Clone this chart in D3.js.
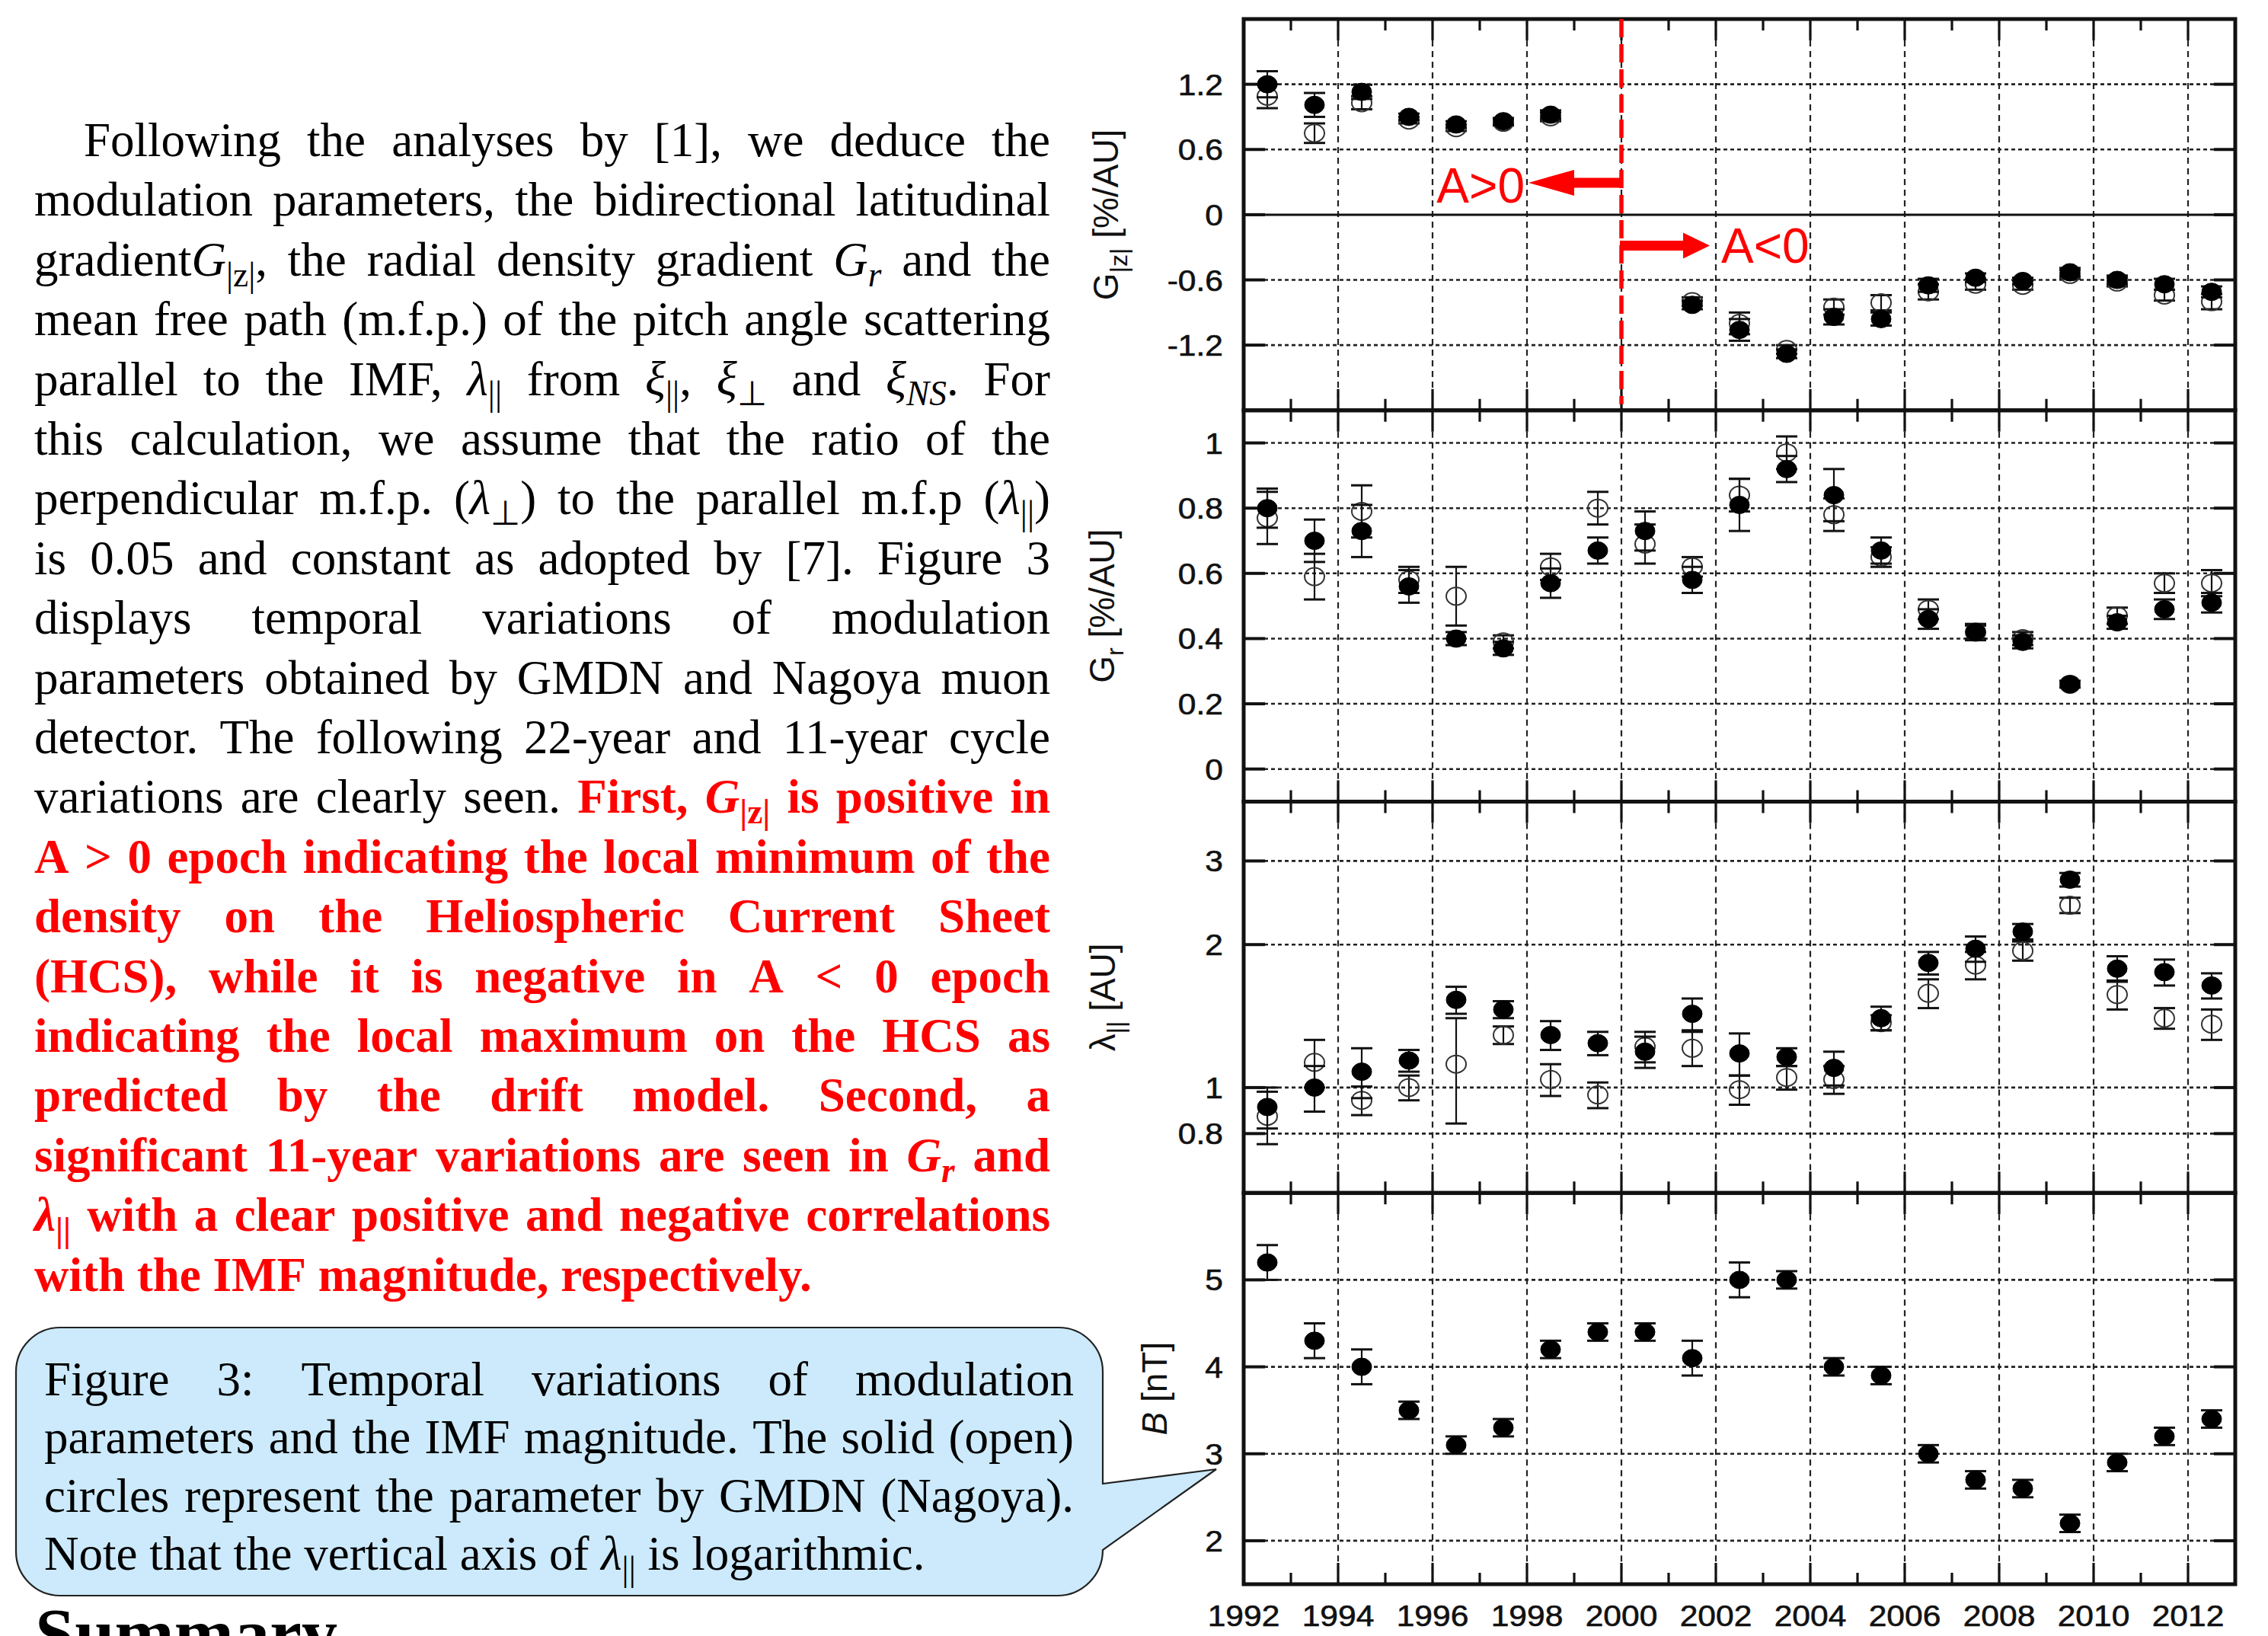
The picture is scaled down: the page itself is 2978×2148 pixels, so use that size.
<!DOCTYPE html>
<html><head><meta charset="utf-8">
<script src="https://cdn.jsdelivr.net/npm/d3@7"></script>
<style>html,body{margin:0;padding:0;background:#fff;} svg{display:block;}</style>
</head><body>
<svg id="fig" width="2978" height="2148"></svg>
<script>
// ---------------- DATA ----------------
const years = [1992,1993,1994,1995,1996,1997,1998,1999,2000,2001,2002,2003,2004,2005,2006,2007,2008,2009,2010,2011,2012];
const xTickLabels = ["1992","1994","1996","1998","2000","2002","2004","2006","2008","2010","2012"];

// G|z| [%/AU]  (solid = GMDN, open = Nagoya)
const gzSolid    = [1.20, 1.01, 1.13, 0.90, 0.83, 0.86, 0.92, null, null, -0.83, -1.06, -1.28, -0.94, -0.96, -0.65, -0.58, -0.61, -0.53, -0.60, -0.64, -0.71];
const gzSolidErr = [0.12, 0.11, 0.065,0.03, 0.03, 0.03, 0.04, null, null, 0.04,  0.10,  0.04,  0.07,  0.06,  0.06,  0.04,  0.03,  0.04,  0.04,  0.05,  0.05];
const gzOpen     = [1.09, 0.75, 1.03, 0.87, 0.80, 0.85, 0.90, null, null, -0.80, -1.00, -1.24, -0.85, -0.81, -0.71, -0.64, -0.65, -0.55, -0.62, -0.74, -0.80];
const gzOpenErr  = [0.11, 0.09, 0.06, 0.03, 0.03, 0.03, 0.04, null, null, 0.04,  0.10,  0.04,  0.07,  0.07,  0.07,  0.05,  0.04,  0.04,  0.04,  0.05,  0.07];
const gzTicks = [-1.2, -0.6, 0, 0.6, 1.2];

// Gr [%/AU]
const grSolid    = [0.80, 0.70, 0.73, 0.56, 0.40, 0.37, 0.57, 0.67, 0.73, 0.58, 0.81, 0.92, 0.84, 0.67, 0.46, 0.42, 0.39, 0.26, 0.45, 0.49, 0.51];
const grSolidErr = [0.06, 0.065,0.08, 0.05, 0.02, 0.02, 0.045,0.04, 0.06, 0.04, 0.08, 0.04, 0.08, 0.04, 0.03, 0.025,0.02, 0.01, 0.02, 0.03, 0.03];
const grOpen     = [0.77, 0.59, 0.79, 0.58, 0.53, 0.39, 0.62, 0.80, 0.69, 0.62, 0.84, 0.97, 0.78, 0.65, 0.49, 0.42, 0.40, 0.26, 0.47, 0.57, 0.57];
const grOpenErr  = [0.08, 0.07, 0.08, 0.04, 0.09, 0.02, 0.04, 0.05, 0.06, 0.03, 0.05, 0.05, 0.05, 0.03, 0.03, 0.02, 0.02, 0.01, 0.025,0.03, 0.04];
const grTicks = [0, 0.2, 0.4, 0.6, 0.8, 1];

// lambda|| [AU] (log axis)
const lamSolid    = [0.91, 1.00, 1.08, 1.14, 1.53, 1.46, 1.29, 1.24, 1.19, 1.43, 1.18, 1.16, 1.10, 1.40, 1.83, 1.96, 2.13, 2.74, 1.78, 1.75, 1.64];
const lamSolidErr = [0.09, 0.11, 0.13, 0.06, 0.10, 0.06, 0.09, 0.07, 0.09, 0.11, 0.12, 0.05, 0.09, 0.08, 0.10, 0.12, 0.08, 0.09, 0.11, 0.11, 0.10];
const lamOpen     = [0.87, 1.13, 0.94, 1.00, 1.12, 1.29, 1.04, 0.965,1.22, 1.21, 0.99, 1.05, 1.04, 1.37, 1.58, 1.81, 1.94, 2.42, 1.57, 1.40, 1.36];
const lamOpenErr  = [0.11, 0.13, 0.065,0.06, 0.28, 0.055,0.08, 0.06, 0.09, 0.10, 0.07, 0.06, 0.07, 0.05, 0.11, 0.12, 0.09, 0.09, 0.11, 0.07, 0.10];
const lamTicks = [0.8, 1, 2, 3];

// B [nT]
const bSolid = [5.2, 4.3, 4.0, 3.5, 3.1, 3.3, 4.2, 4.4, 4.4, 4.1, 5.0, 5.0, 4.0, 3.9, 3.0, 2.7, 2.6, 2.2, 2.9, 3.2, 3.4];
const bErr   = [0.2, 0.2, 0.2, 0.1, 0.1, 0.1, 0.1, 0.1, 0.1, 0.2, 0.2, 0.1, 0.1, 0.1, 0.1, 0.1, 0.1, 0.1, 0.1, 0.1, 0.1];
const bTicks = [2, 3, 4, 5];

const polarityChangeYear = 2000;

// ---------------- TEXT ----------------
const bodyLines = [
 "Following the analyses by [1], we deduce the",
 "modulation parameters, the bidirectional latitudinal",
 "gradient*G*_{|z|}, the radial density gradient *G*_{*r*} and the",
 "mean free path (m.f.p.) of the pitch angle scattering",
 "parallel to the IMF, *λ*_{||} from *ξ*_{||}, *ξ*_{⊥} and *ξ*_{*NS*}. For",
 "this calculation, we assume that the ratio of the",
 "perpendicular m.f.p. (*λ*_{⊥}) to the parallel m.f.p (*λ*_{||})",
 "is 0.05 and constant as adopted by [7]. Figure 3",
 "displays temporal variations of modulation",
 "parameters obtained by GMDN and Nagoya muon",
 "detector. The following 22-year and 11-year cycle",
 "variations are clearly seen. ^First, *G*_{|z|} is positive in",
 "^A > 0 epoch indicating the local minimum of the",
 "^density on the Heliospheric Current Sheet",
 "^(HCS), while it is negative in A < 0 epoch",
 "^indicating the local maximum on the HCS as",
 "^predicted by the drift model. Second, a",
 "^significant 11-year variations are seen in *G*_{*r*} and",
 "^*λ*_{||} with a clear positive and negative correlations",
 "^with the IMF magnitude, respectively."
];
const captionLines = [
 "Figure 3: Temporal variations of modulation",
 "parameters and the IMF magnitude. The solid (open)",
 "circles represent the parameter by GMDN (Nagoya).",
 "Note that the vertical axis of *λ*_{||} is logarithmic."
];

// ---------------- SETUP ----------------
const RED = "#ff0000";
const SERIF = "'Liberation Serif','Times New Roman',Times,serif";
const SANS = "'Liberation Sans',Arial,Helvetica,sans-serif";
const svg = d3.select("#fig");

function parseMarkup(s) {
  const words = []; let it=false, sub=false, hi=false, cur=[], buf='';
  const flush=()=>{ if(buf){cur.push({t:buf,it,sub,hi}); buf='';} };
  for (let i=0;i<s.length;i++){
    const c=s[i];
    if (c==='*'){flush(); it=!it;}
    else if (c==='^'){flush(); hi=!hi;}
    else if (c==='_' && s[i+1]==='{'){flush(); sub=true; i++;}
    else if (c==='}' && sub){flush(); sub=false;}
    else if (c===' '){flush(); if(cur.length) words.push(cur); cur=[];}
    else buf+=c;
  }
  flush(); if(cur.length) words.push(cur);
  return words;
}
function addSegs(t, segs, fs, subShift, subScale) {
  let shift = 0;
  segs.forEach(sg => {
    const ts = t.append('tspan').text(sg.t);
    const target = sg.sub ? fs*subShift : 0;
    if (target !== shift) { ts.attr('dy', target - shift); shift = target; }
    ts.attr('font-size', sg.sub ? fs*subScale : fs);
    if (sg.it) ts.attr('font-style','italic');
    if (sg.hi) ts.attr('font-weight','bold').attr('fill', RED);
  });
}
function renderLine(g, markup, x0, x1, y, fs, justify) {
  const words = parseMarkup(markup);
  const texts = words.map(w => {
    const t = g.append('text').attr('y', y).attr('font-family', SERIF)
      .attr('font-size', fs).attr('fill', '#000');
    addSegs(t, w, fs, 0.22, 0.72);
    return t;
  });
  const widths = texts.map(t => t.node().getComputedTextLength());
  const total = d3.sum(widths), n = texts.length;
  let gap = fs*0.25, sc = 1;
  if (justify && n>1) gap = (x1 - x0 - total)/(n-1);
  if (gap < fs*0.12) { gap = fs*0.12; sc = (x1-x0-gap*(n-1))/total; }
  let cx = x0;
  texts.forEach((t,i)=>{
    if (sc !== 1) t.attr('transform', `translate(${cx},0) scale(${sc},1)`).attr('x',0);
    else t.attr('x', cx);
    cx += widths[i]*sc + gap;
  });
}

// ---------------- LEFT TEXT ----------------
const gText = svg.append('g');
const BODY_FS = 63, body0 = 205, bodyStep = 78.4, bodyL = 45, bodyR = 1379;
bodyLines.forEach((ln, i) => {
  renderLine(gText, ln, i===0 ? 110 : bodyL, bodyR, body0 + i*bodyStep, BODY_FS, i < bodyLines.length-1);
});

// Callout box
svg.append('path')
  .attr('d', "M79,1743 H1390 A58,58 0 0 1 1448,1801 V1948 L1597,1929 L1448,2035 A60,60 0 0 1 1388,2095 H79 A58,58 0 0 1 21,2037 V1801 A58,58 0 0 1 79,1743 Z")
  .attr('fill', '#cceafb').attr('stroke', '#222').attr('stroke-width', 2.2);
const gCap = svg.append('g');
const capBase = [1832, 1908, 1985, 2061];
captionLines.forEach((ln, i) => {
  renderLine(gCap, ln, 58, 1410, capBase[i], BODY_FS, i < captionLines.length-1);
});
gCap.append('text').attr('x', 46).attr('y', 2176).attr('font-family', SERIF)
  .attr('font-weight','bold').attr('font-size', 94).text('Summary');

// ---------------- CHART ----------------
const plotL = 1633, plotR = 2935, plotT = 25, panelH = 513.75;
const x = d3.scaleLinear().domain([1992, 2013]).range([plotL, plotR]);
const panels = [
  {title:"G_{|z|} [%/AU]", titleX:1468, log:false, domain:[-1.8,1.8], ticks:gzTicks, solid:gzSolid, sErr:gzSolidErr, open:gzOpen, oErr:gzOpenErr, zero:true},
  {title:"G_{r} [%/AU]",   titleX:1463, log:false, domain:[-0.1,1.1], ticks:grTicks, solid:grSolid, sErr:grSolidErr, open:grOpen, oErr:grOpenErr},
  {title:"λ_{||} [AU]",    titleX:1464, log:true,  domain:[0.6,4],    ticks:lamTicks, solid:lamSolid, sErr:lamSolidErr, open:lamOpen, oErr:lamOpenErr},
  {title:"*B* [nT]",       titleX:1532, log:false, domain:[1.5,6],    ticks:bTicks, solid:bSolid, sErr:bErr, open:null, oErr:null}
];
const gC = svg.append('g');
const allYears = d3.range(1992, 2014);
const SX = 1.12, TICK_FS = 38, TITLE_FS = 46;

panels.forEach((p, pi) => {
  const top = plotT + pi*panelH, bot = top + panelH;
  const y = (p.log ? d3.scaleLog() : d3.scaleLinear()).domain(p.domain).range([bot, top]);
  p.y = y;
  const g = gC.append('g');
  // vertical dashed grid at even years
  g.selectAll('line.vg').data(allYears.filter(d => d%2===0 && d>1992 && d<2013)).enter()
    .append('line').attr('class','vg').attr('x1', d=>x(d)).attr('x2', d=>x(d)).attr('y1', top).attr('y2', bot)
    .attr('stroke', '#222').attr('stroke-width', 2.2).attr('stroke-dasharray', '8,6');
  // horizontal dotted grid
  g.selectAll('line.hg').data(p.ticks.filter(t => !(p.zero && t===0))).enter()
    .append('line').attr('class','hg').attr('x1', plotL).attr('x2', plotR).attr('y1', d=>y(d)).attr('y2', d=>y(d))
    .attr('stroke', '#222').attr('stroke-width', 2.6).attr('stroke-dasharray', '5,4');
  if (p.zero) g.append('line').attr('x1', plotL).attr('x2', plotR).attr('y1', y(0)).attr('y2', y(0))
    .attr('stroke', '#111').attr('stroke-width', 3);
  // x ticks top/bottom
  allYears.forEach(yr => {
    const len = yr%2===0 ? 28 : 15;
    g.append('line').attr('x1', x(yr)).attr('x2', x(yr)).attr('y1', top).attr('y2', top+len)
      .attr('stroke', '#111').attr('stroke-width', 3.2);
    g.append('line').attr('x1', x(yr)).attr('x2', x(yr)).attr('y1', bot).attr('y2', bot-len)
      .attr('stroke', '#111').attr('stroke-width', 3.2);
  });
  // y ticks left/right + labels
  p.ticks.forEach(t => {
    g.append('line').attr('x1', plotL).attr('x2', plotL+28).attr('y1', y(t)).attr('y2', y(t))
      .attr('stroke', '#111').attr('stroke-width', 4);
    g.append('line').attr('x1', plotR).attr('x2', plotR-28).attr('y1', y(t)).attr('y2', y(t))
      .attr('stroke', '#111').attr('stroke-width', 4);
    g.append('text').attr('transform', `translate(1606,${y(t)+14}) scale(${SX},1)`)
      .attr('text-anchor', 'end').attr('font-family', SANS).attr('font-size', TICK_FS).attr('fill', '#111')
      .attr('stroke', '#111').attr('stroke-width', 0.6)
      .text(String(t));
  });
  // frame
  g.append('rect').attr('x', plotL).attr('y', top).attr('width', plotR-plotL).attr('height', panelH)
    .attr('fill', 'none').attr('stroke', '#111').attr('stroke-width', 5);
  // title
  const tt = g.append('text').attr('transform', `translate(${p.titleX},${(top+bot)/2}) rotate(-90)`)
    .attr('text-anchor', 'middle').attr('font-family', SANS).attr('font-size', TITLE_FS).attr('fill', '#111')
    .style('white-space', 'pre');
  const ws = parseMarkup(p.title);
  const segs = [];
  ws.forEach((w, i) => { if (i) segs.push({t:' ', it:false, sub:false, hi:false}); segs.push(...w); });
  addSegs(tt, segs, TITLE_FS, 0.25, 0.7);

  // error bars & markers
  function drawSeries(vals, errs, solid) {
    const data = years.map((yr, i) => ({yr, v: vals[i], e: errs[i]})).filter(d => d.v != null);
    const gs = g.append('g');
    gs.selectAll('line.eb').data(data).enter().append('line').attr('class','eb')
      .attr('x1', d=>x(d.yr+0.5)).attr('x2', d=>x(d.yr+0.5))
      .attr('y1', d=>y(d.v+d.e)).attr('y2', d=>y(d.v-d.e))
      .attr('stroke', '#111').attr('stroke-width', 2.2);
    [1, -1].forEach((sgn, k) => {
      gs.selectAll('line.cap' + k).data(data).enter().append('line').attr('class', 'cap' + k)
        .attr('x1', d=>x(d.yr+0.5)-14).attr('x2', d=>x(d.yr+0.5)+14)
        .attr('y1', d=>y(d.v + sgn*d.e)).attr('y2', d=>y(d.v + sgn*d.e))
        .attr('stroke', '#111').attr('stroke-width', 3);
    });
    gs.selectAll('ellipse.mk').data(data).enter().append('ellipse').attr('class','mk')
      .attr('cx', d=>x(d.yr+0.5)).attr('cy', d=>y(d.v)).attr('rx', 13).attr('ry', 11.5)
      .attr('fill', solid ? '#000' : 'none').attr('stroke', solid ? '#000' : '#333')
      .attr('stroke-width', solid ? 1 : 2);
  }
  if (p.open) drawSeries(p.open, p.oErr, false);
  drawSeries(p.solid, p.sErr, true);
});

// Polarity annotation (panel 1)
const y1 = panels[0].y;
const xr = x(polarityChangeYear);
gC.append('line').attr('x1', xr).attr('x2', xr).attr('y1', plotT).attr('y2', plotT+panelH-8)
  .attr('stroke', RED).attr('stroke-width', 5.5).attr('stroke-dasharray', '24,9');
const la = y1(0.294), ra = y1(-0.284);
gC.append('path').attr('fill', RED)
  .attr('d', `M${xr},${la-6.5} H${xr-62} V${la-17} L${xr-122},${la} L${xr-62},${la+17} V${la+6.5} H${xr} Z`);
gC.append('path').attr('fill', RED)
  .attr('d', `M${xr-2},${ra-6.5} H${xr+81} V${ra-17} L${xr+116},${ra} L${xr+81},${ra+17} V${ra+6.5} H${xr-2} Z`);
gC.append('text').attr('x', xr-127).attr('y', y1(0.11)).attr('text-anchor','end')
  .attr('font-family', SANS).attr('font-size', 64).attr('fill', RED).text('A>0');
gC.append('text').attr('x', xr+131).attr('y', y1(-0.44)).attr('text-anchor','start')
  .attr('font-family', SANS).attr('font-size', 64).attr('fill', RED).text('A<0');

// x tick labels
gC.selectAll('text.xl').data(xTickLabels).enter().append('text').attr('class','xl')
  .attr('transform', d => `translate(${x(+d)},2135) scale(${SX},1)`)
  .attr('text-anchor', 'middle').attr('font-family', SANS).attr('font-size', TICK_FS).attr('fill', '#111')
  .attr('stroke', '#111').attr('stroke-width', 0.6)
  .text(d => d);
</script>
</body></html>
